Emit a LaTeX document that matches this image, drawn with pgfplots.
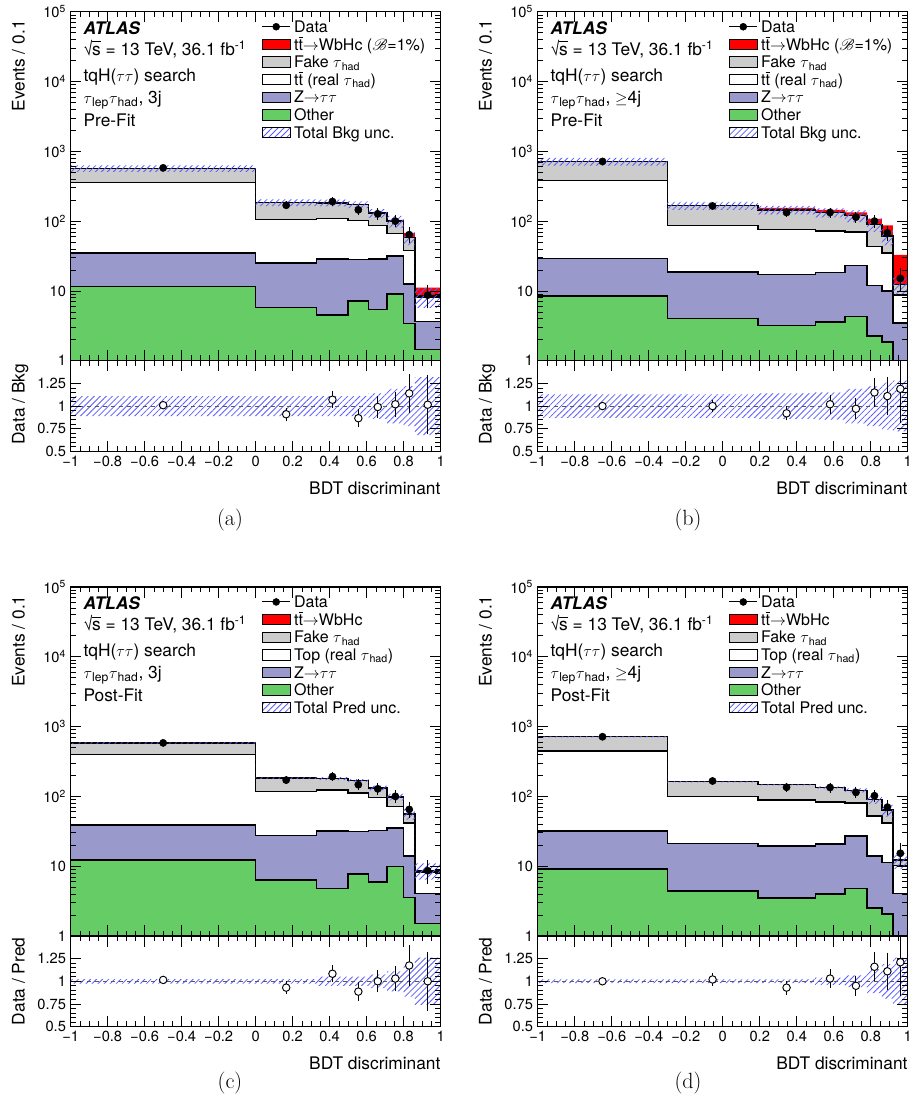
\documentclass[border=0pt]{standalone}
\usepackage{fontspec}
\setsansfont{TeX Gyre Heros}
\usepackage{mathrsfs}
\usepackage{pgfplots}
\pgfplotsset{compat=1.18}
\usepackage{pgfplotstable}
\usetikzlibrary{patterns.meta}

\definecolor{sigred}{RGB}{255,0,0}
\definecolor{fakegray}{RGB}{204,204,204}
\definecolor{ztt}{RGB}{153,153,204}
\definecolor{othergreen}{RGB}{102,204,102}
\definecolor{hatch}{RGB}{90,90,255}

\newcommand{\tbar}{\leavevmode\rlap{\raisebox{0.76em}{\rule{0.278em}{0.06em}}}t}
\newcommand{\sqrts}{\mbox{√\kern-0.05em\rlap{\raisebox{0.74em}{\rule{0.5em}{0.05em}}}s}}

% cumulative stack tops per bin (left edge; last row repeats the last bin)
\pgfplotstableread{
edge  other ztt  top  fake sig
-1    11.5  35   356  569  569
0     5.8   25   106  185  185
0.33  4.5   28.7 110  183  183
0.5   7.2   28   102  173  173
0.61  5.4   28.7 87   130  131
0.71  9.1   31.7 66   100  104
0.80  3.4   12.6 38   58   68
0.86  1.44  3.63 8.1  8.4  11.2
1     1.44  3.63 8.1  8.4  11.2
}\stA
% uncertainty band outline: upper edge left to right, lower edge right to left
\pgfplotstableread{
x     y     r
-1    631.6 1.11
0     205.4 1.11
0.33  203.1 1.11
0.5   192.0 1.11
0.61  148.2 1.14
0.71  119.0 1.19
0.80  70.8  1.22
0.86  11.1  1.32
1     11.1  1.32
1     5.7   0.68
0.86  45.2  0.78
0.80  81.0  0.81
0.71  111.8 0.86
0.61  154.0 0.89
0.5   162.9 0.89
0.33  164.7 0.89
0     506.4 0.89
-1    506.4 0.89
}\bdA
\pgfplotstableread{
x      y    ey   r     er
-0.5   580  7.6  1.01  0.013
0.165  169  7.2  0.91  0.039
0.415  191  10.6 1.07  0.059
0.555  145  11.5 0.866 0.068
0.66   127  11.3 0.99  0.088
0.755  100  10.5 1.02  0.107
0.83   64   10.3 1.14  0.18
0.93   8.7  2.5  1.015 0.29
}\dA

\pgfplotstableread{
edge  other ztt  top  fake sig
-1    8.4   29   380  716  716
-0.3  4.0   18.6 86   167  168
0.19  3.2   17.2 76   145  155
0.5   3.6   18.4 72   133  145
0.66  4.3   23   70   120  134
0.78  2.27  12   43.5 90   108
0.86  1.85  10   35   61   87
0.92  1.0   3.5  8.7  12.4 33
1     1.0   3.5  8.7  12.4 33
}\stB
\pgfplotstableread{
x     y     r
-1    809.1 1.13
-0.3  188.7 1.13
0.19  165.3 1.14
0.5   153.0 1.15
0.66  142.8 1.19
0.78  109.8 1.22
0.86  76.9  1.26
0.92  15.9  1.28
1     15.9  1.28
1     8.9   0.72
0.92  45.1  0.74
0.86  70.2  0.78
0.78  97.2  0.81
0.66  113.1 0.85
0.5   124.7 0.86
0.19  145.3 0.87
-0.3  622.9 0.87
-1    622.9 0.87
}\bdB
\pgfplotstableread{
x      y    ey   r     er
-0.65  716  10.1 1.0   0.014
-0.055 165  5.8  1.0   0.035
0.345  133  6.5  0.92  0.045
0.58   133  9.1  1.02  0.07
0.72   114  9.7  0.97  0.082
0.82   100  11.2 1.15  0.129
0.89   68   10.6 1.11  0.173
0.96   15.1 4.3  1.19  0.34
}\dB

\pgfplotstableread{
edge  other ztt  top  fake
-1    12.2  39   398  583
0     6.3   27.5 118  183
0.33  4.8   31.8 124  179
0.5   7.7   31.4 111  168
0.61  5.9   32.5 96   132
0.71  9.9   35   71   98
0.80  3.56  14   41.6 56
0.86  1.5   4.03 8.3  8.7
1     1.5   4.03 8.3  8.7
}\stC
\pgfplotstableread{
x     y     r
-1    597.6 1.025
0     187.6 1.025
0.33  188.0 1.05
0.5   176.4 1.05
0.61  141.9 1.075
0.71  108.8 1.11
0.80  65.5  1.17
0.86  11.0  1.26
1     11.0  1.26
1     6.4   0.74
0.86  46.5  0.83
0.80  87.2  0.89
0.71  122.1 0.925
0.61  159.6 0.95
0.5   170.1 0.95
0.33  178.4 0.975
0     568.4 0.975
-1    568.4 0.975
}\bdC
\pgfplotstableread{
x      y    ey   r     er
-0.5   583  7.6  1.015 0.013
0.165  171  7.2  0.93  0.04
0.415  192  10.6 1.083 0.06
0.555  147  11.6 0.886 0.07
0.66   128  11.3 1.0   0.089
0.755  100  10.5 1.03  0.108
0.83   65   10.4 1.174 0.19
0.93   8.6  2.5  1.0   0.29
}\dC

\pgfplotstableread{
edge  other ztt  top  fake
-1    9.1   31.8 445  714
-0.3  4.4   21   100  162
0.19  3.5   19.4 89   147
0.5   4.0   20.8 83   134
0.66  4.8   27   80   122
0.78  2.5   14   52   90
0.86  2.07  11.2 41.6 63.5
0.92  1.0   4.07 10.2 12.3
1     1.0   4.07 10.2 12.3
}\stD
\pgfplotstableread{
x     y     r
-1    728.3 1.02
-0.3  165.2 1.02
0.19  149.9 1.02
0.5   139.4 1.04
0.66  129.9 1.065
0.78  101.7 1.13
0.86  75.6  1.19
0.92  15.5  1.26
1     15.5  1.26
1     9.1   0.74
0.92  51.4  0.81
0.86  78.3  0.87
0.78  114.1 0.935
0.66  128.6 0.96
0.5   144.1 0.98
0.19  158.8 0.98
-0.3  699.7 0.98
-1    699.7 0.98
}\bdD
\pgfplotstableread{
x      y    ey   r     er
-0.65  714  10.1 1.0   0.014
-0.055 166  5.8  1.02  0.035
0.345  135  6.6  0.93  0.046
0.58   134  9.2  1.03  0.07
0.72   114  9.7  0.95  0.081
0.82   102  11.3 1.16  0.13
0.89   70   10.8 1.11  0.173
0.96   15.3 4.4  1.21  0.345
}\dD

\tikzset{hatchpat/.style={pattern={Lines[angle=45,distance=3.2pt,line width=0.6pt]},pattern color=hatch}}

\pgfplotsset{
  every axis/.append style={
    scale only axis, width=277.5pt, xmin=-1, xmax=1,
    axis on top, tick align=inside,
    major tick length=8pt, minor tick length=4pt,
    every tick/.style={black, line width=0.6pt},
    axis line style={line width=0.9pt},
    xtick={-1,-0.8,-0.6,-0.4,-0.2,0,0.2,0.4,0.6,0.8,1},
    minor x tick num=3,
    tick label style={font=\fontsize{11}{13}\selectfont},
    label style={font=\fontsize{13}{15}\selectfont},
    legend cell align=left,
    legend style={draw=none, fill=none, inner sep=0pt, outer sep=0pt,
      at={(0.5162,0.9822)}, anchor=north west,
      font=\fontsize{12}{14}\selectfont, row sep=0pt,
      /tikz/every odd column/.append style={column sep=2.5pt},
      nodes={inner sep=0pt, text height=10.9pt, text depth=2.3pt}},
  },
}

\newcommand{\drawsig}[1]{%
  \addplot[const plot mark left, fill=sigred, draw=none, forget plot]
    table[x=edge,y=sig]{#1} \closedcycle;}
\newcommand{\drawstack}[1]{%
  \addplot[const plot mark left, fill=fakegray, draw=black, line width=1.1pt, forget plot]
    table[x=edge,y=fake]{#1} \closedcycle;
  \addplot[const plot mark left, fill=white, draw=black, line width=1.1pt, forget plot]
    table[x=edge,y=top]{#1} \closedcycle;
  \addplot[const plot mark left, fill=ztt, draw=black, line width=1.1pt, forget plot]
    table[x=edge,y=ztt]{#1} \closedcycle;
  \addplot[const plot mark left, fill=othergreen, draw=black, line width=1.1pt, forget plot]
    table[x=edge,y=other]{#1} \closedcycle;}
\newcommand{\drawband}[2]{%
  \addplot[hatchpat, draw=none, const plot mark left, forget plot] table[x=x,y=#2]{#1};}
\newcommand{\drawdata}[1]{%
  \addplot[only marks, mark=*, mark size=2.7pt, black, forget plot,
    error bars/.cd, y dir=both, y explicit,
    error bar style={line width=0.8pt, black},
    error mark options={line width=0.8pt, mark size=2.2pt, black}]
    table[x=x,y=y,y error=ey]{#1};}
\newcommand{\drawratio}[2]{%
  \drawband{#1}{r}
  \addplot[gray!70!black, dashed, line width=0.6pt, forget plot] coordinates {(-1,1) (1,1)};
  \addplot[only marks, mark=*, mark size=2.8pt, mark options={fill=white, draw=black, line width=0.7pt},
    black, forget plot,
    error bars/.cd, y dir=both, y explicit,
    error bar style={line width=0.8pt, black},
    error mark options={line width=0.8pt, mark size=2.2pt, black}]
    table[x=x,y=r,y error=er]{#2};}
\newcommand{\atlastext}[2]{%
  \node[anchor=base west, inner sep=0pt, xshift=9.5pt, yshift=-16.9pt, font=\fontsize{13}{15}\selectfont]
    at (rel axis cs:0,1) {\textbf{\textit{ATLAS}}};
  \node[anchor=base west, inner sep=0pt, xshift=9.5pt, yshift=-32.5pt, font=\fontsize{13}{15}\selectfont]
    at (rel axis cs:0,1) {\sqrts\ = 13 TeV, 36.1 fb\textsuperscript{-1}};
  \node[anchor=base west, inner sep=0pt, xshift=9.5pt, yshift=-52.5pt, font=\fontsize{13}{15}\selectfont]
    at (rel axis cs:0,1) {tqH($\tau\tau$) search};
  \node[anchor=base west, inner sep=0pt, xshift=9.5pt, yshift=-68.7pt, font=\fontsize{13}{15}\selectfont]
    at (rel axis cs:0,1) {$\tau$\textsubscript{lep}$\tau$\textsubscript{had}, #1};
  \node[anchor=base west, inner sep=0pt, xshift=9.5pt, yshift=-85.7pt, font=\fontsize{13}{15}\selectfont]
    at (rel axis cs:0,1) {#2};}
\newcommand{\legdata}{%
  \addlegendimage{legend image code/.code={\draw[black,line width=0.8pt] (0pt,0pt) -- (21pt,0pt);
    \fill[black] (10.5pt,0pt) circle (2.6pt);}}
  \addlegendentry{Data}}
\newcommand{\legbox}[2]{%
  \addlegendimage{legend image code/.code={\draw[#1] (0pt,-3.9pt) rectangle (21pt,3.9pt);}}
  \addlegendentry{#2}}
\newcommand{\leghatch}[1]{%
  \addlegendimage{legend image code/.code={\fill[hatchpat] (0pt,-3.9pt) rectangle (21pt,3.9pt);}}
  \addlegendentry{#1}}
\newcommand{\legpre}{%
  \legdata
  \legbox{fill=sigred,draw=black,line width=0.6pt}{t\tbar${\rightarrow}$WbHc ($\mathscr{B}$=1\%)}
  \legbox{fill=fakegray,draw=black,line width=0.6pt}{Fake $\tau$\textsubscript{had}}
  \legbox{fill=white,draw=black,line width=0.6pt}{t\tbar\ (real $\tau$\textsubscript{had})}
  \legbox{fill=ztt,draw=black,line width=0.6pt}{Z${\rightarrow}\tau\tau$}
  \legbox{fill=othergreen,draw=black,line width=0.6pt}{Other}
  \leghatch{Total Bkg unc.}}
\newcommand{\legpost}{%
  \legdata
  \legbox{fill=sigred,draw=black,line width=0.6pt}{t\tbar${\rightarrow}$WbHc}
  \legbox{fill=fakegray,draw=black,line width=0.6pt}{Fake $\tau$\textsubscript{had}}
  \legbox{fill=white,draw=black,line width=0.6pt}{Top (real $\tau$\textsubscript{had})}
  \legbox{fill=ztt,draw=black,line width=0.6pt}{Z${\rightarrow}\tau\tau$}
  \legbox{fill=othergreen,draw=black,line width=0.6pt}{Other}
  \leghatch{Total Pred unc.}}

\begin{document}
\sffamily
\begin{tikzpicture}
\useasboundingbox (0pt,0pt) rectangle (684pt,-838.5pt);

% (a) pre-fit, 3 jets
\begin{semilogyaxis}[at={(53pt,-8.8pt)}, anchor=north west, height=261.75pt,
    ymin=1, ymax=100000, ytick={1,10,100,1000,10000,100000},
    yticklabels={1,10,10\textsuperscript{2},10\textsuperscript{3},10\textsuperscript{4},10\textsuperscript{5}},
    xticklabels={}, ylabel={Events / 0.1},
    ylabel style={at={(rel axis cs:-0.1243,0.9763)}, anchor=base east, inner sep=0pt}]
  \drawsig{\stA}
  \drawstack{\stA}
  \drawband{\bdA}{y}
  \drawdata{\dA}
  \atlastext{3j}{Pre-Fit}
  \legpre
\end{semilogyaxis}
\begin{axis}[at={(53pt,-270.55pt)}, anchor=north west, height=68pt,
    ymin=0.5, ymax=1.5, ytick={0.5,0.75,1,1.25}, yticklabels={0.5,0.75,1,1.25},
    minor y tick num=4,
    xticklabels={−1,−0.8,−0.6,−0.4,−0.2,0,0.2,0.4,0.6,0.8,1},
    xlabel={BDT discriminant},
    xlabel style={at={(rel axis cs:1,0)}, anchor=north east, yshift=-22.5pt, inner sep=0pt},
    ylabel={Data / Bkg},
    ylabel style={at={(rel axis cs:-0.1243,0.965)}, anchor=base east, inner sep=0pt}]
  \drawratio{\bdA}{\dA}
\end{axis}

% (b) pre-fit, >=4 jets
\begin{semilogyaxis}[at={(403.3pt,-8.8pt)}, anchor=north west, height=261.75pt,
    ymin=1, ymax=100000, ytick={1,10,100,1000,10000,100000},
    yticklabels={1,10,10\textsuperscript{2},10\textsuperscript{3},10\textsuperscript{4},10\textsuperscript{5}},
    xticklabels={}, ylabel={Events / 0.1},
    ylabel style={at={(rel axis cs:-0.1243,0.9763)}, anchor=base east, inner sep=0pt}]
  \drawsig{\stB}
  \drawstack{\stB}
  \drawband{\bdB}{y}
  \drawdata{\dB}
  \atlastext{$\geq$4j}{Pre-Fit}
  \legpre
\end{semilogyaxis}
\begin{axis}[at={(403.3pt,-270.55pt)}, anchor=north west, height=68pt,
    ymin=0.5, ymax=1.5, ytick={0.5,0.75,1,1.25}, yticklabels={0.5,0.75,1,1.25},
    minor y tick num=4,
    xticklabels={−1,−0.8,−0.6,−0.4,−0.2,0,0.2,0.4,0.6,0.8,1},
    xlabel={BDT discriminant},
    xlabel style={at={(rel axis cs:1,0)}, anchor=north east, yshift=-22.5pt, inner sep=0pt},
    ylabel={Data / Bkg},
    ylabel style={at={(rel axis cs:-0.1243,0.965)}, anchor=base east, inner sep=0pt}]
  \drawratio{\bdB}{\dB}
\end{axis}

% (c) post-fit, 3 jets
\begin{semilogyaxis}[at={(53pt,-440.2pt)}, anchor=north west, height=261.75pt,
    ymin=1, ymax=100000, ytick={1,10,100,1000,10000,100000},
    yticklabels={1,10,10\textsuperscript{2},10\textsuperscript{3},10\textsuperscript{4},10\textsuperscript{5}},
    xticklabels={}, ylabel={Events / 0.1},
    ylabel style={at={(rel axis cs:-0.1243,0.9763)}, anchor=base east, inner sep=0pt}]
  \drawstack{\stC}
  \drawband{\bdC}{y}
  \drawdata{\dC}
  \atlastext{3j}{Post-Fit}
  \legpost
\end{semilogyaxis}
\begin{axis}[at={(53pt,-701.95pt)}, anchor=north west, height=68pt,
    ymin=0.5, ymax=1.5, ytick={0.5,0.75,1,1.25}, yticklabels={0.5,0.75,1,1.25},
    minor y tick num=4,
    xticklabels={−1,−0.8,−0.6,−0.4,−0.2,0,0.2,0.4,0.6,0.8,1},
    xlabel={BDT discriminant},
    xlabel style={at={(rel axis cs:1,0)}, anchor=north east, yshift=-22.5pt, inner sep=0pt},
    ylabel={Data / Pred},
    ylabel style={at={(rel axis cs:-0.1243,0.985)}, anchor=base east, inner sep=0pt}]
  \drawratio{\bdC}{\dC}
\end{axis}

% (d) post-fit, >=4 jets
\begin{semilogyaxis}[at={(403.3pt,-440.2pt)}, anchor=north west, height=261.75pt,
    ymin=1, ymax=100000, ytick={1,10,100,1000,10000,100000},
    yticklabels={1,10,10\textsuperscript{2},10\textsuperscript{3},10\textsuperscript{4},10\textsuperscript{5}},
    xticklabels={}, ylabel={Events / 0.1},
    ylabel style={at={(rel axis cs:-0.1243,0.9763)}, anchor=base east, inner sep=0pt}]
  \drawstack{\stD}
  \drawband{\bdD}{y}
  \drawdata{\dD}
  \atlastext{$\geq$4j}{Post-Fit}
  \legpost
\end{semilogyaxis}
\begin{axis}[at={(403.3pt,-701.95pt)}, anchor=north west, height=68pt,
    ymin=0.5, ymax=1.5, ytick={0.5,0.75,1,1.25}, yticklabels={0.5,0.75,1,1.25},
    minor y tick num=4,
    xticklabels={−1,−0.8,−0.6,−0.4,−0.2,0,0.2,0.4,0.6,0.8,1},
    xlabel={BDT discriminant},
    xlabel style={at={(rel axis cs:1,0)}, anchor=north east, yshift=-22.5pt, inner sep=0pt},
    ylabel={Data / Pred},
    ylabel style={at={(rel axis cs:-0.1243,0.985)}, anchor=base east, inner sep=0pt}]
  \drawratio{\bdD}{\dD}
\end{axis}

\node[font=\rmfamily\fontsize{16.5}{19}\selectfont] at (172.5pt,-390pt) {(a)};
\node[font=\rmfamily\fontsize{16.5}{19}\selectfont] at (516pt,-390pt) {(b)};
\node[font=\rmfamily\fontsize{16.5}{19}\selectfont] at (172.5pt,-812.25pt) {(c)};
\node[font=\rmfamily\fontsize{16.5}{19}\selectfont] at (516pt,-812.25pt) {(d)};
\end{tikzpicture}
\end{document}
